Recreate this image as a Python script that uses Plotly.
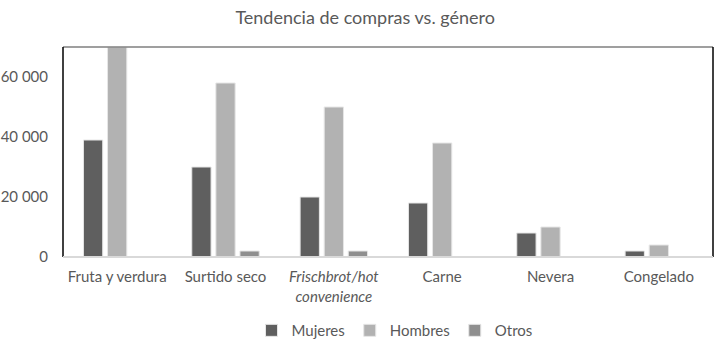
import plotly.graph_objects as go

categories = ["Fruta y verdura", "Surtido seco", "<i>Frischbrot/hot</i><br><i>convenience</i>",
              "Carne", "Nevera", "Congelado"]
mujeres = [39000, 30000, 20000, 18000, 8000, 2000]
hombres = [70000, 58000, 50000, 38000, 10000, 4000]
otros = [0, 2000, 2000, 0, 0, 0]

series = [("Mujeres", mujeres, "#5f5f5f"),
          ("Hombres", hombres, "#b2b2b2"),
          ("Otros", otros, "#8f8f8f")]

fig = go.Figure()
for name, vals, color in series:
    fig.add_trace(go.Bar(
        name=name, x=categories, y=vals,
        marker=dict(color=color, line=dict(color="#e6e6e6", width=1)),
    ))

font = "Lato, 'Open Sans', sans-serif"
fig.update_layout(
    width=716, height=348,
    margin=dict(l=63, r=3, t=47, b=91, autoexpand=False),
    paper_bgcolor="white", plot_bgcolor="white",
    barmode="group", bargap=0.333, bargroupgap=0.2,
    separators=", ",
    title=dict(text="Tendencia de compras vs. género", x=0.51, xanchor="center",
               y=0.95, yanchor="middle",
               font=dict(family=font, size=18, color="#595959")),
    font=dict(family=font, size=15, color="#595959"),
    legend=dict(orientation="h", x=0.51, xanchor="center",
                yref="container", y=0.05, yanchor="middle",
                font=dict(size=15, color="#595959"), itemwidth=30, traceorder="normal",
                tracegroupgap=0),
    xaxis=dict(showgrid=False, showline=False, ticks="", ticklabelstandoff=9,
               tickfont=dict(size=15, color="#595959")),
    yaxis=dict(range=[0, 70000], tickvals=[0, 20000, 40000, 60000], tickformat=",d",
               showgrid=False, showline=False, zeroline=False, ticks="",
               ticklabelstandoff=14, tickfont=dict(size=15, color="#595959")),
)

# frame around the plotting area
fig.add_shape(type="line", xref="paper", yref="paper", x0=0, x1=1, y0=1, y1=1,
              line=dict(color="#7f7f7f", width=1.5))
fig.add_shape(type="line", xref="paper", yref="paper", x0=0, x1=0, y0=0, y1=1,
              line=dict(color="#000000", width=1.5))
fig.add_shape(type="line", xref="paper", yref="paper", x0=1, x1=1, y0=0, y1=1,
              line=dict(color="#000000", width=1.5))
fig.add_shape(type="line", xref="paper", yref="paper", x0=0, x1=1, y0=0, y1=0,
              line=dict(color="#d9d9d9", width=2))

fig.write_html("out.html")
